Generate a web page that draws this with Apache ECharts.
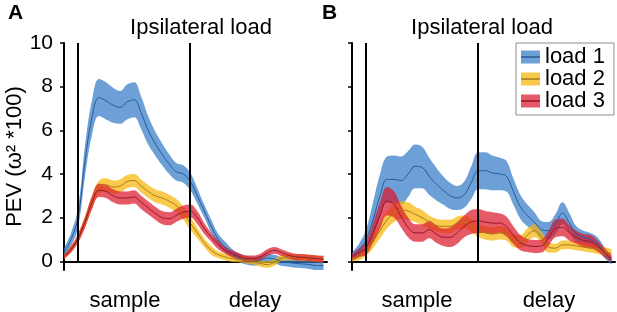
<!DOCTYPE html>
<html>
<head>
<meta charset="utf-8">
<script src="https://cdn.jsdelivr.net/npm/echarts@6/dist/echarts.min.js"></script>
<style>
  html, body { margin: 0; padding: 0; background: #fff; }
  #chart { width: 617px; height: 312px; }
</style>
</head>
<body>
<div id="chart"></div>
<script>
// time in ms relative to sample onset
const times = [-100, -50, 0, 50, 100, 150, 200, 250, 300, 350, 400, 450, 500, 550, 600, 650, 700, 750, 800,
  850, 900, 950, 1000, 1050, 1100, 1150, 1200, 1250, 1300, 1350, 1400, 1450, 1500, 1550, 1600, 1650, 1700, 1750];

// panel A
const meanA1 = [0.4, 1.0, 2.0, 4.6, 6.6, 7.5, 7.35, 7.15, 7.05, 7.3, 7.4, 6.8, 6.0, 5.4, 4.9, 4.45, 4.1, 4.0, 3.65,
  3.0, 2.3, 1.6, 1.0, 0.65, 0.35, 0.15, 0.05, 0.0, 0.05, 0.15, 0.1, 0.0, -0.05, -0.1, -0.12, -0.15, -0.2, -0.2];
const semA1 = [0.2, 0.3, 0.45, 0.7, 0.8, 0.85, 0.85, 0.8, 0.75, 0.8, 0.8, 0.75, 0.65, 0.55, 0.5, 0.45, 0.4, 0.4, 0.4,
  0.35, 0.3, 0.3, 0.25, 0.25, 0.2, 0.2, 0.2, 0.2, 0.2, 0.2, 0.2, 0.2, 0.2, 0.2, 0.2, 0.2, 0.2, 0.2];
const meanA2 = [0.2, 0.55, 1.05, 1.8, 2.7, 3.4, 3.5, 3.4, 3.45, 3.65, 3.7, 3.45, 3.2, 3.0, 2.9, 2.75, 2.55, 2.2, 1.75,
  1.3, 0.85, 0.5, 0.3, 0.2, 0.12, 0.1, 0.05, 0.0, -0.1, -0.15, -0.05, 0.15, 0.2, 0.18, 0.15, 0.15, 0.12, 0.1];
const semA2 = [0.1, 0.15, 0.2, 0.25, 0.3, 0.3, 0.3, 0.3, 0.3, 0.3, 0.3, 0.3, 0.3, 0.3, 0.3, 0.3, 0.3, 0.3, 0.3,
  0.25, 0.2, 0.2, 0.15, 0.15, 0.15, 0.15, 0.15, 0.15, 0.15, 0.15, 0.15, 0.15, 0.15, 0.15, 0.15, 0.15, 0.15, 0.15];
const meanA3 = [0.2, 0.55, 1.05, 1.8, 2.7, 3.25, 3.2, 3.0, 2.9, 2.9, 2.95, 2.7, 2.45, 2.2, 2.0, 1.95, 2.1, 2.25, 2.3,
  2.0, 1.5, 1.1, 0.75, 0.5, 0.35, 0.22, 0.12, 0.12, 0.2, 0.4, 0.5, 0.4, 0.28, 0.2, 0.18, 0.15, 0.12, 0.1];
const semA3 = [0.1, 0.15, 0.2, 0.25, 0.3, 0.3, 0.3, 0.3, 0.3, 0.3, 0.3, 0.3, 0.3, 0.3, 0.3, 0.3, 0.3, 0.3, 0.3,
  0.3, 0.25, 0.2, 0.2, 0.15, 0.15, 0.15, 0.15, 0.15, 0.15, 0.15, 0.15, 0.15, 0.15, 0.15, 0.15, 0.15, 0.15, 0.15];

// panel B
const meanB1 = [0.2, 0.5, 1.0, 1.9, 3.0, 3.75, 3.75, 3.7, 4.0, 4.35, 4.3, 3.9, 3.55, 3.25, 3.0, 2.9, 3.05, 3.6, 4.15,
  4.15, 4.05, 4.0, 3.9, 3.2, 2.5, 2.1, 1.8, 1.45, 1.4, 1.7, 2.2, 1.75, 1.25, 1.1, 1.0, 0.8, 0.4, 0.05];
const semB1 = [0.2, 0.3, 0.45, 0.8, 1.0, 1.05, 1.1, 1.1, 1.05, 1.0, 0.95, 0.85, 0.75, 0.65, 0.6, 0.55, 0.6, 0.75, 0.85,
  0.85, 0.8, 0.75, 0.7, 0.6, 0.55, 0.5, 0.45, 0.4, 0.4, 0.45, 0.5, 0.45, 0.35, 0.3, 0.3, 0.3, 0.25, 0.2];
const meanB2 = [0.1, 0.2, 0.45, 0.9, 1.4, 1.9, 2.2, 2.35, 2.3, 2.15, 2.0, 1.8, 1.65, 1.6, 1.6, 1.75, 1.8, 1.65, 1.4,
  1.3, 1.25, 1.3, 1.25, 0.95, 0.9, 1.2, 1.4, 1.1, 0.65, 0.6, 0.75, 0.75, 0.7, 0.65, 0.6, 0.55, 0.45, 0.35];
const semB2 = [0.1, 0.15, 0.2, 0.3, 0.35, 0.4, 0.4, 0.4, 0.4, 0.35, 0.35, 0.3, 0.3, 0.3, 0.3, 0.3, 0.3, 0.3, 0.3,
  0.3, 0.3, 0.3, 0.3, 0.3, 0.3, 0.3, 0.3, 0.25, 0.25, 0.2, 0.2, 0.2, 0.2, 0.2, 0.2, 0.2, 0.2, 0.2];
const meanB3 = [0.2, 0.4, 0.6, 1.3, 2.1, 2.75, 2.6, 2.05, 1.55, 1.3, 1.3, 1.45, 1.25, 1.1, 1.1, 1.3, 1.6, 1.8, 1.85,
  1.8, 1.75, 1.75, 1.6, 1.2, 0.85, 0.72, 0.68, 0.7, 1.05, 1.5, 1.55, 1.3, 1.1, 0.95, 0.9, 0.7, 0.4, 0.1];
const semB3 = [0.15, 0.2, 0.3, 0.45, 0.6, 0.65, 0.6, 0.5, 0.45, 0.4, 0.4, 0.4, 0.4, 0.4, 0.45, 0.5, 0.5, 0.55, 0.55,
  0.5, 0.5, 0.45, 0.45, 0.4, 0.35, 0.3, 0.3, 0.3, 0.35, 0.4, 0.4, 0.35, 0.3, 0.3, 0.3, 0.25, 0.2, 0.15];

const loadNames = ['load 1', 'load 2', 'load 3'];
const yTicks = [0, 2, 4, 6, 8, 10];
const eventTimes = [0, 800];
const epochNames = ['sample', 'delay'];
const epochLabelA = [335, 1262];
const epochLabelB = [363, 1304];

const bandColors = ['#2d77c6', '#f8b400', '#dc1428'];
const iconColors = ['#6ca0d7', '#f8ca4c', '#e65a68'];
const lineColors = ['#285a96', '#a8781a', '#961428'];
const font = 'Liberation Sans';

const chart = echarts.init(document.getElementById('chart'));

// rows are [value, time] so the stack is done on the value dimension
function loadSeries(g, k, mean, sem) {
  const lower = mean.map((m, i) => [m - sem[i], times[i]]);
  const width = sem.map((s, i) => [2 * s, times[i]]);
  const mid = mean.map((m, i) => [m, times[i]]);
  const common = {
    type: 'line', xAxisIndex: g, yAxisIndex: g, symbol: 'none', smooth: 0.4, silent: true,
    encode: { x: 1, y: 0 }
  };
  return [
    Object.assign({}, common, {
      data: lower, stack: 'band' + g + k, stackStrategy: 'all',
      lineStyle: { opacity: 0 }
    }),
    Object.assign({}, common, {
      name: loadNames[k], data: width, stack: 'band' + g + k, stackStrategy: 'all',
      lineStyle: { opacity: 0 },
      areaStyle: { color: bandColors[k], opacity: 0.7 }
    }),
    Object.assign({}, common, {
      name: loadNames[k], data: mid,
      lineStyle: { color: lineColors[k], width: 1 }
    })
  ];
}

function eventLines(g) {
  return {
    type: 'line', xAxisIndex: g, yAxisIndex: g, data: [], silent: true, z: 5,
    markLine: {
      symbol: 'none', silent: true, label: { show: false },
      lineStyle: { color: '#000', width: 2, type: 'solid' },
      data: eventTimes.map(t => [{ coord: [t, 0] }, { coord: [t, 10] }])
    }
  };
}

function xAxisFor(g, labelPos) {
  return {
    type: 'value', gridIndex: g, min: -100, max: 1775,
    splitLine: { show: false },
    axisTick: { show: false },
    axisLine: { onZero: true, lineStyle: { color: '#000', width: 2 } },
    axisLabel: {
      customValues: labelPos, margin: 20, fontSize: 22, color: '#000', fontFamily: font,
      formatter: v => epochNames[labelPos.indexOf(v)] || ''
    }
  };
}

function yAxisFor(g, showLabels) {
  return {
    type: 'value', gridIndex: g, min: -0.4, max: 10,
    splitLine: { show: false },
    axisLine: { onZero: false, lineStyle: { color: '#000', width: 2 } },
    axisTick: { customValues: yTicks, length: 4, lineStyle: { color: '#000', width: 1.5 } },
    axisLabel: {
      show: showLabels, customValues: yTicks, margin: 11, fontSize: 21, color: '#000', fontFamily: font
    },
    name: showLabels ? 'PEV (ω² *100)' : '',
    nameLocation: 'middle', nameGap: 36,
    nameTextStyle: { fontSize: 22, color: '#000', fontFamily: font }
  };
}

const legendBase = {
  left: 516, top: 43, orient: 'vertical', itemGap: 0, itemWidth: 19,
  padding: [3, 9, 3, 5], selectedMode: false,
  textStyle: { fontSize: 22, lineHeight: 22, fontFamily: font, color: '#000' }
};

const series = [].concat(
  loadSeries(0, 0, meanA1, semA1), loadSeries(0, 1, meanA2, semA2), loadSeries(0, 2, meanA3, semA3),
  loadSeries(1, 0, meanB1, semB1), loadSeries(1, 1, meanB2, semB2), loadSeries(1, 2, meanB3, semB3),
  [eventLines(0), eventLines(1)]
);

chart.setOption({
  animation: false,
  textStyle: { fontFamily: font },
  grid: [
    { left: 64, top: 43, width: 263, bottom: 35 },
    { left: 352, top: 43, width: 263, bottom: 35 }
  ],
  xAxis: [xAxisFor(0, epochLabelA), xAxisFor(1, epochLabelB)],
  yAxis: [yAxisFor(0, true), yAxisFor(1, false)],
  legend: [
    Object.assign({}, legendBase, {
      itemHeight: 13, borderColor: '#8c8c8c', borderWidth: 1,
      data: loadNames.map((n, k) => ({ name: n, icon: 'rect', itemStyle: { color: iconColors[k] } }))
    }),
    Object.assign({}, legendBase, {
      itemHeight: 1.5,
      textStyle: Object.assign({}, legendBase.textStyle, { color: 'rgba(0,0,0,0)' }),
      data: loadNames.map((n, k) => ({ name: n, icon: 'rect', itemStyle: { color: lineColors[k] } }))
    })
  ],
  graphic: [
    { type: 'text', left: 8, top: 3, style: { text: 'A', fontSize: 21, fontWeight: 'bold', fontFamily: font, fill: '#000' } },
    { type: 'text', left: 322, top: 3, style: { text: 'B', fontSize: 21, fontWeight: 'bold', fontFamily: font, fill: '#000' } },
    { type: 'text', x: 201, y: 28, style: { text: 'Ipsilateral load', fontSize: 22, fontFamily: font, fill: '#000', align: 'center', verticalAlign: 'middle' } },
    { type: 'text', x: 482, y: 28, style: { text: 'Ipsilateral load', fontSize: 22, fontFamily: font, fill: '#000', align: 'center', verticalAlign: 'middle' } }
  ],
  series: series
});
</script>
</body>
</html>
